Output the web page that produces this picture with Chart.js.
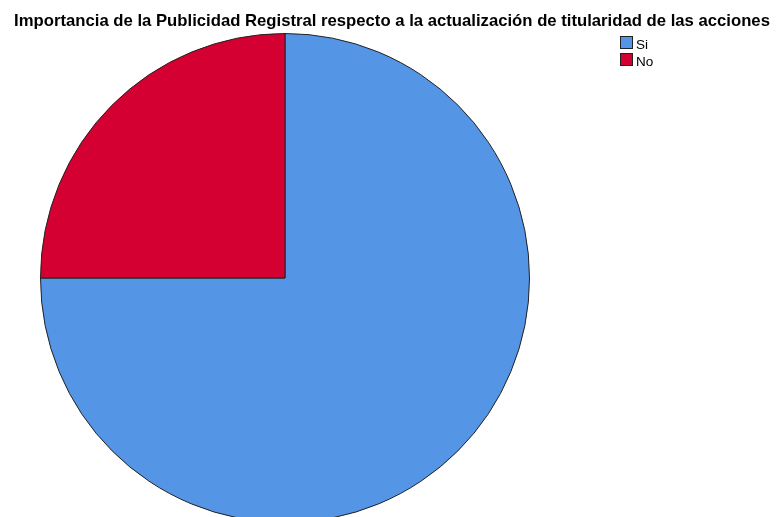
<!DOCTYPE html>
<html>
<head>
<meta charset="utf-8">
<script src="https://cdn.jsdelivr.net/npm/chart.js@4/dist/chart.umd.min.js"></script>
<style>
html,body{margin:0;padding:0;background:#fff;overflow:hidden;width:777px;height:517px;}
canvas{display:block;}
</style>
</head>
<body>
<canvas id="c" width="777" height="530"></canvas>
<script>
const categories = ["Si", "No"];
const values = [75, 25];
const colors = ["#5595E5", "#D50032"];
const titleText = "Importancia de la Publicidad Registral respecto a la actualización de titularidad de las acciones";

const overlay = {
  id: 'overlay',
  afterDraw(chart) {
    const ctx = chart.ctx;
    ctx.save();
    ctx.fillStyle = '#000';
    ctx.font = 'bold 16.7px "Liberation Sans", Arial, sans-serif';
    ctx.textAlign = 'center';
    ctx.textBaseline = 'alphabetic';
    ctx.fillText(titleText, 392, 26);
    ctx.font = '13.5px "Liberation Sans", Arial, sans-serif';
    ctx.textAlign = 'left';
    ctx.textBaseline = 'alphabetic';
    chart.data.labels.forEach((lab, i) => {
      const y = 36 + i * 17;
      ctx.fillStyle = chart.data.datasets[0].backgroundColor[i];
      ctx.fillRect(620.5, y + 0.5, 12, 12);
      ctx.strokeStyle = '#222';
      ctx.lineWidth = 1;
      ctx.strokeRect(620.5, y + 0.5, 12, 12);
      ctx.fillStyle = '#000';
      ctx.fillText(lab, 636, y + 13);
    });
    ctx.restore();
  }
};

new Chart(document.getElementById('c'), {
  type: 'pie',
  data: {
    labels: categories,
    datasets: [{
      data: values,
      backgroundColor: colors,
      borderColor: '#222',
      borderWidth: 1
    }]
  },
  options: {
    responsive: false,
    animation: false,
    devicePixelRatio: 1,
    layout: { padding: { left: 40, right: 247, top: 33, bottom: 7 } },
    plugins: {
      legend: { display: false },
      title: { display: false },
      tooltip: { enabled: false }
    }
  },
  plugins: [overlay]
});
</script>
</body>
</html>
